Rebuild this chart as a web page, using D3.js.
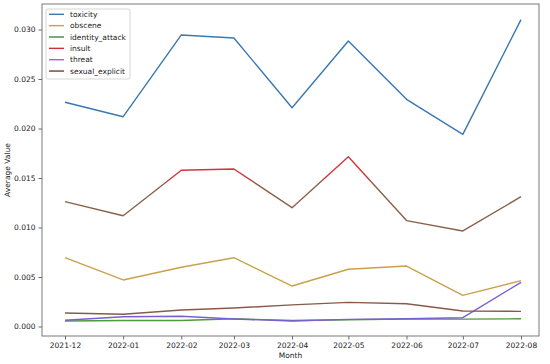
<!DOCTYPE html>
<html>
<head>
<meta charset="utf-8">
<script src="https://cdn.jsdelivr.net/npm/d3@7"></script>
<style>
  body { margin: 0; background: #fff; }
  svg { display: block; font-family: 'DejaVu Sans', sans-serif; }
</style>
</head>
<body>
<div id="chart"></div>
<script>
// months of the data (first of each month)
const months = ['2021-12', '2022-01', '2022-02', '2022-03', '2022-04', '2022-05', '2022-06', '2022-07', '2022-08'];

// series values
const toxicity = [0.02265, 0.02119, 0.02945, 0.02914, 0.02210, 0.02884, 0.02295, 0.01941, 0.03100];
const obscene = [0.00695, 0.00470, 0.00598, 0.00695, 0.00409, 0.00578, 0.00611, 0.00315, 0.00463];
const identityAttack = [0.00056, 0.00060, 0.00060, 0.00078, 0.00060, 0.00068, 0.00075, 0.00074, 0.00078];
const insult = [0.01261, 0.01119, 0.01578, 0.01591, 0.01200, 0.01715, 0.01070, 0.00965, 0.01311];
const threat = [0.00063, 0.00099, 0.00103, 0.00076, 0.00056, 0.00072, 0.00079, 0.00089, 0.00446];
const sexualExplicit = [0.00136, 0.00123, 0.00167, 0.00187, 0.00218, 0.00244, 0.00230, 0.00157, 0.00153];

const seriesNames = ['toxicity', 'obscene', 'identity_attack', 'insult', 'threat', 'sexual_explicit'];
const seriesValues = [toxicity, obscene, identityAttack, insult, threat, sexualExplicit];
const yTicks = [0, 0.005, 0.010, 0.015, 0.020, 0.025, 0.030];

// line colours as they show in the picture; legend uses the plain ones
const lineColors = ['#3a78b0', '#c8a24a', '#4c9a3c', 'url(#insultGrad)', '#7a5fd2', '#8a5a48'];
const legendColors = ['#3a78b0', '#f28a5a', '#3c8a46', '#d0303c', '#9a6ccc', '#7a3a34'];

const width = 550, height = 364;
const plot = { left: 42, right: 539, top: 4, bottom: 336 };
const fontSize = '7.5px';

const svg = d3.select('#chart')
  .append('svg')
  .attr('width', width)
  .attr('height', height);

const parse = d3.timeParse('%Y-%m');
const dates = months.map(parse);

const x = d3.scaleTime()
  .domain([dates[0], dates[dates.length - 1]])
  .range([65, 521]);

const y = d3.scaleLinear()
  .domain([0, 0.030])
  .range([326.5, 29.5]);

// insult line looks red at the top and brown lower down
const grad = svg.append('defs').append('linearGradient')
  .attr('id', 'insultGrad')
  .attr('gradientUnits', 'userSpaceOnUse')
  .attr('x1', 0).attr('x2', 0)
  .attr('y1', y(0.020)).attr('y2', y(0.008));
grad.append('stop').attr('offset', 0).attr('stop-color', '#d8343e');
grad.append('stop').attr('offset', (y(0.0149) - y(0.020)) / (y(0.008) - y(0.020))).attr('stop-color', '#d0343e');
grad.append('stop').attr('offset', (y(0.0146) - y(0.020)) / (y(0.008) - y(0.020))).attr('stop-color', '#8a6048');
grad.append('stop').attr('offset', 1).attr('stop-color', '#8a6048');

// lines
const line = d3.line()
  .x((d, i) => x(dates[i]))
  .y(d => y(d));

svg.selectAll('path.series')
  .data(seriesValues)
  .join('path')
  .attr('class', 'series')
  .attr('d', line)
  .attr('fill', 'none')
  .attr('stroke', (d, i) => lineColors[i])
  .attr('stroke-width', 1.4)
  .attr('stroke-linejoin', 'round');

// axes
const xAxis = svg.append('g')
  .attr('transform', `translate(0,${plot.bottom})`)
  .call(d3.axisBottom(x).tickValues(dates).tickFormat(d3.timeFormat('%Y-%m')).tickSize(3.5).tickPadding(3));

const yAxis = svg.append('g')
  .attr('transform', `translate(${plot.left},0)`)
  .call(d3.axisLeft(y).tickValues(yTicks).tickFormat(d3.format('.3f')).tickSize(3.5).tickPadding(3));

[xAxis, yAxis].forEach(g => {
  g.select('.domain').remove();
  g.selectAll('line').attr('stroke', '#444').attr('stroke-width', 0.8);
  g.selectAll('text').attr('fill', '#1a1a1a').style('font-size', fontSize).style('font-family', "'DejaVu Sans', sans-serif");
});

// frame
svg.append('rect')
  .attr('x', plot.left)
  .attr('y', plot.top)
  .attr('width', plot.right - plot.left)
  .attr('height', plot.bottom - plot.top)
  .attr('fill', 'none')
  .attr('stroke', '#6a6a6a')
  .attr('stroke-width', 0.9);

// axis titles
svg.append('text')
  .attr('x', (plot.left + plot.right) / 2)
  .attr('y', 358)
  .attr('text-anchor', 'middle')
  .attr('fill', '#1a1a1a')
  .style('font-size', fontSize)
  .text('Month');

svg.append('text')
  .attr('transform', `translate(10,${(plot.top + plot.bottom) / 2}) rotate(-90)`)
  .attr('text-anchor', 'middle')
  .attr('fill', '#1a1a1a')
  .style('font-size', fontSize)
  .text('Average Value');

// legend
const legend = svg.append('g').attr('transform', 'translate(46,9)');
legend.append('rect')
  .attr('width', 84)
  .attr('height', 70)
  .attr('rx', 2)
  .attr('fill', '#fff')
  .attr('fill-opacity', 0.8)
  .attr('stroke', '#ccc')
  .attr('stroke-width', 0.8);

const items = legend.selectAll('g.item')
  .data(seriesNames)
  .join('g')
  .attr('class', 'item')
  .attr('transform', (d, i) => `translate(0,${5.3 + i * 11.35})`);

items.append('line')
  .attr('x1', 3).attr('x2', 18)
  .attr('stroke', (d, i) => legendColors[i])
  .attr('stroke-width', 1.4);

items.append('text')
  .attr('x', 24)
  .attr('dy', '0.35em')
  .attr('fill', '#1a1a1a')
  .style('font-size', fontSize)
  .text(d => d);
</script>
</body>
</html>
